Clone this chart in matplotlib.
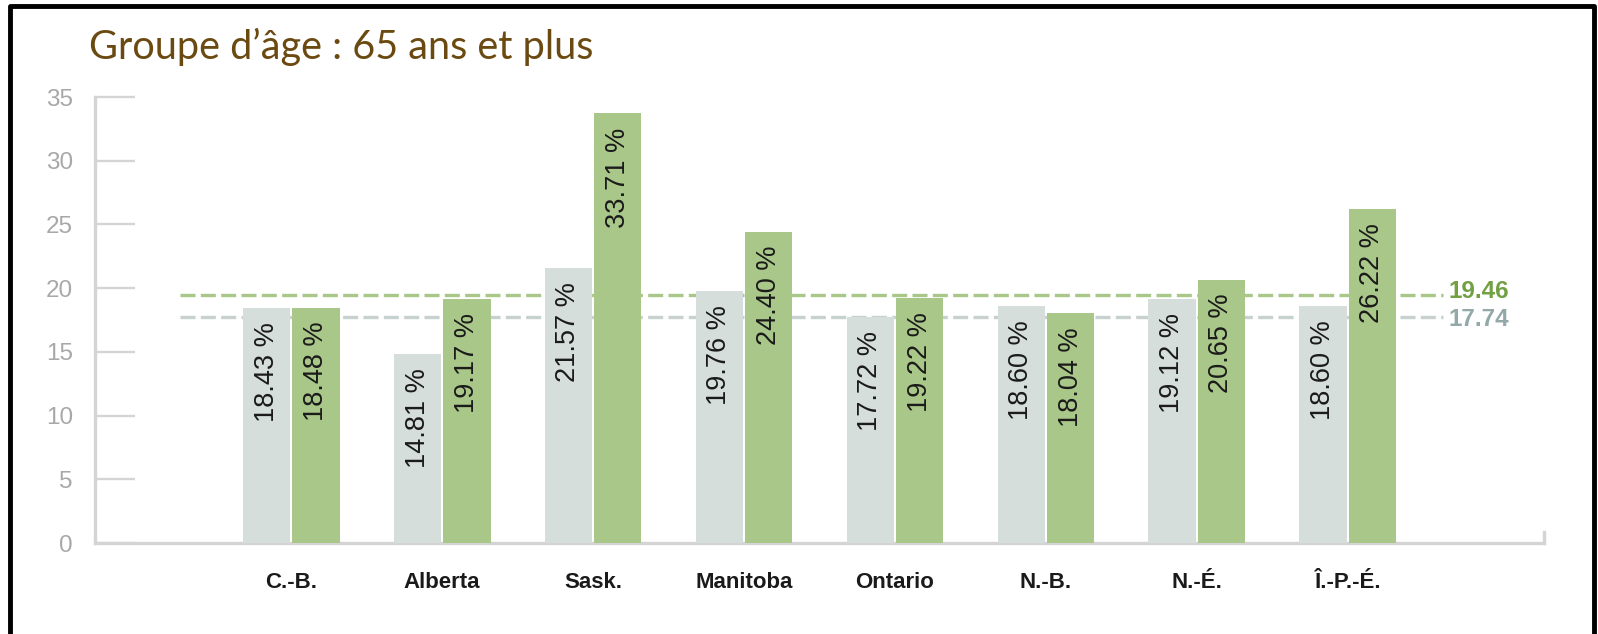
import matplotlib.pyplot as plt
import numpy as np
from matplotlib.lines import Line2D

provinces = ['C.-B.', 'Alberta', 'Sask.', 'Manitoba', 'Ontario', 'N.-B.', 'N.-É.', 'Î.-P.-É.']
gray_vals = [18.43, 14.81, 21.57, 19.76, 17.72, 18.60, 19.12, 18.60]
green_vals = [18.48, 19.17, 33.71, 24.40, 19.22, 18.04, 20.65, 26.22]
green_avg = 19.46
gray_avg = 17.74
yticks = [0, 5, 10, 15, 20, 25, 30, 35]

gray_c = '#d6dedb'
green_c = '#a9c788'
axis_c = '#d4d4d4'

fig = plt.figure(figsize=(15.98, 6.34), dpi=100)
ax = fig.add_axes([95 / 1598, 1 - 543 / 634, 1449 / 1598, 446 / 634])

x = np.arange(len(provinces))
w = 0.315
off = 0.163
b1 = ax.bar(x - off, gray_vals, w, color=gray_c, zorder=3)
b2 = ax.bar(x + off, green_vals, w, color=green_c, zorder=3)

for bars, vals in [(b1, gray_vals), (b2, green_vals)]:
    for r, v in zip(bars, vals):
        ax.annotate(f'{v:.2f} %', (r.get_x() + r.get_width() / 2, v),
                    xytext=(0, -10), textcoords='offset points',
                    rotation=90, ha='center', va='top', fontsize=19.5,
                    family='Liberation Sans', color='#1a1a1a', zorder=4)

# average lines
ax.axhline(green_avg, xmin=0.059, xmax=0.93, color=green_c, lw=2.4,
           dashes=(4.5, 1.6), zorder=1)
ax.axhline(gray_avg, xmin=0.059, xmax=0.93, color='#c7d1cf', lw=2.4,
           dashes=(4.5, 1.6), zorder=1)
ax.annotate(f'{green_avg:.2f}', (0.934, green_avg), xycoords=ax.get_yaxis_transform(),
            xytext=(0, 2.5), textcoords='offset points',
            ha='left', va='center', fontsize=17.5, fontweight='bold',
            family='Liberation Sans', color='#72a043')
ax.annotate(f'{gray_avg:.2f}', (0.934, gray_avg), xycoords=ax.get_yaxis_transform(),
            xytext=(0, -2), textcoords='offset points',
            ha='left', va='center', fontsize=17.5, fontweight='bold',
            family='Liberation Sans', color='#93a8a8')

ax.set_xlim(-1.3, 8.3)
ax.set_ylim(0, 35)
ax.set_yticks(yticks)
ax.set_xticks(x)
ax.set_xticklabels(provinces, family='Liberation Sans', fontweight='bold',
                   fontsize=16, color='#1a1a1a')
ax.tick_params(axis='x', length=0, pad=21)
ax.tick_params(axis='y', direction='in', length=29, width=1.7, color=axis_c,
               pad=16, labelsize=17.5, labelcolor='#a8a8a8')
for lab in ax.get_yticklabels():
    lab.set_family('Liberation Sans')

ax.spines['top'].set_visible(False)
for s in ['left', 'bottom', 'right']:
    ax.spines[s].set_color(axis_c)
    ax.spines[s].set_linewidth(2.4)
ax.spines['right'].set_bounds(0, 0.9)

fig.text(89 / 1598, 1 - 59 / 634, "Groupe d\u2019âge : 65 ans et plus",
         family='Lato', fontsize=28.5, color='#6b4a12', va='baseline')

# frame (left, top, right)
fig.add_artist(Line2D([10 / 1598, 10 / 1598, 1594 / 1598, 1594 / 1598],
                      [0, 1 - 6 / 634, 1 - 6 / 634, 0], color='black', lw=3.5,
                      transform=fig.transFigure))

fig.savefig('out.png', dpi=100)
